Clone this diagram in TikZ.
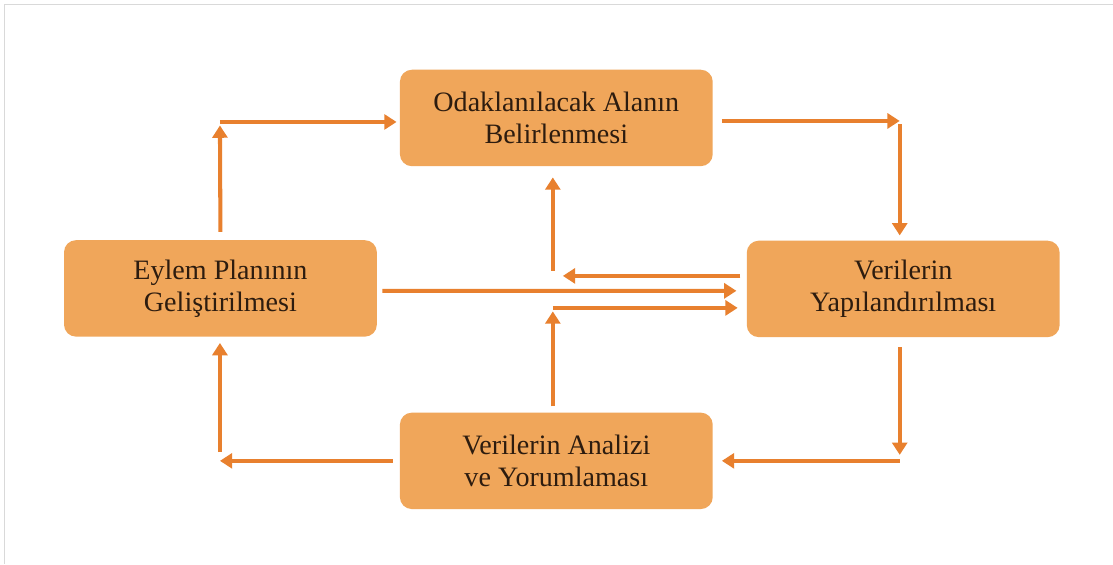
\documentclass[tikz,border=0pt]{standalone}
\usepackage{fontspec}
\setmainfont{Liberation Serif}
\usetikzlibrary{arrows.meta}
\definecolor{boxfill}{RGB}{240,166,90}
\definecolor{arrowcol}{RGB}{232,128,46}
\definecolor{textcol}{RGB}{45,28,15}
\begin{document}
\begin{tikzpicture}[x=0.02cm,y=-0.02cm,
  box/.style={fill=boxfill,rounded corners=0.24cm,minimum width=6.26cm,minimum height=1.93cm,
    align=center,text=textcol,font=\fontsize{16}{18.2}\selectfont},
  arr/.style={draw=arrowcol,line width=2.3pt,-{Triangle[length=7pt,width=8.5pt]}}]
\fill [white] (0,0) rectangle (1113,564);
\draw [black!15,line width=0.4pt] (4,564) -- (4,4) -- (1113,4);

\node [box] (odak) at (556.5,118) {Odaklanılacak Alanın\\Belirlenmesi};
\node [box] (plan) at (220.5,288.5) {Eylem Planının\\Geliştirilmesi};
\node [box] (veri) at (903.5,289) {Verilerin\\Yapılandırılması};
\node [box] (analiz) at (556.5,461) {Verilerin Analizi\\ve Yorumlaması};

\coordinate (tl) at (220,122);
\coordinate (tr) at (900,121);
\coordinate (br) at (900,461);
\coordinate (bl) at (220,461);
\coordinate (m1) at (553,276);
\coordinate (m2) at (553,271);
\coordinate (m3) at (553,308);

% outer loop
\draw [arr] ([yshift=4.5pt]plan.north) -- ([yshift=-2pt]tl);
\draw [arr] (tl) -- ([xshift=-1.7pt]odak.west |- tl);
\draw [arr] ([xshift=5pt]odak.east |- tr) -- (tr);
\draw [arr] ([yshift=-2pt]tr) -- ([yshift=2.8pt]veri.north -| tr);
\draw [arr] ([yshift=-5.7pt]veri.south -| br) -- ([yshift=3.4pt]br);
\draw [arr] (br) -- ([xshift=5pt]analiz.east |- br);
\draw [arr] ([xshift=-4pt]analiz.west |- bl) -- (bl);
\draw [arr] ([yshift=5pt]bl) -- ([yshift=-3.4pt]plan.south -| bl);

% middle
\draw [arr] ([xshift=-3.4pt]veri.west |- m1) -- ([xshift=5.7pt]m1);
\draw [arr] (m2) -- ([yshift=-6.2pt]odak.south -| m2);
\draw [arr] ([xshift=3pt,yshift=-1.4pt]plan.east) -- ([xshift=-5.7pt,yshift=-1.1pt]veri.west);
\draw [arr] ([yshift=3.4pt]analiz.north -| m3) -- ([yshift=-2pt]m3);
\draw [arr] (m3) -- ([xshift=-5pt]veri.west |- m3);
\end{tikzpicture}
\end{document}
